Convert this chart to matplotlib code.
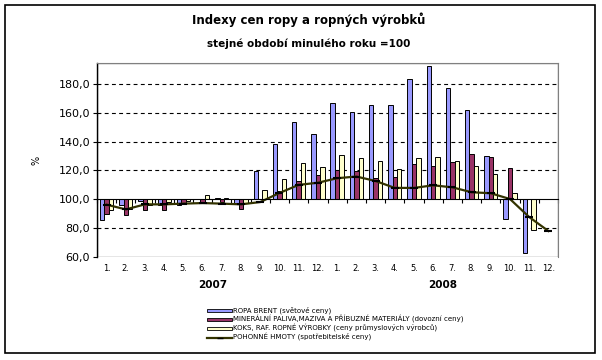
import matplotlib

matplotlib.use("Agg")

import matplotlib.pyplot as plt
import numpy as np
from matplotlib.lines import Line2D
from matplotlib.patches import Patch, Rectangle

# months Jan 2007 .. Dec 2008
months = [f"{m}." for m in range(1, 13)] * 2
years = ["2007", "2008"]

ropa_brent = [85.8, 95.8, 98.6, 96.3, 95.8, 100.5, 101.2, 97.4, 119.3, 138.2, 153.3, 145.0,
              167.1, 160.2, 165.3, 165.3, 183.1, 192.4, 176.9, 161.8, 130.3, 86.6, 63.0, np.nan]
mineralni = [90.0, 88.9, 92.4, 92.4, 96.5, 98.1, 98.1, 93.5, 100.5, 105.6, 113.0, 117.1,
             120.6, 119.9, 115.1, 115.8, 124.8, 123.4, 125.7, 131.7, 129.6, 122.0, np.nan, np.nan]
koks = [92.4, 93.5, 96.3, 98.1, 98.5, 103.3, 101.2, 97.4, 106.7, 114.4, 125.5, 122.7,
        131.0, 128.3, 126.4, 121.3, 128.3, 129.6, 126.4, 123.4, 117.8, 104.6, 79.0, np.nan]
pohonne = [96.3, 93.0, 96.5, 96.5, 97.0, 97.4, 97.0, 96.5, 98.1, 104.4, 110.0, 111.5,
           114.6, 115.8, 112.7, 107.9, 107.9, 109.7, 108.3, 104.9, 104.2, 100.2, 87.7, 78.0]

labels = [
    "ROPA BRENT (světové ceny)",
    "MINERÁLNÍ PALIVA,MAZIVA A PŘÍBUZNÉ MATERIÁLY (dovozní ceny)",
    "KOKS, RAF. ROPNÉ VÝROBKY (ceny průmyslových výrobců)",
    "POHONNÉ HMOTY (spotřebitelské ceny)",
]
colors = ["#9999FF", "#993366", "#FFFFCC"]
line_color = "#333300"
BASE = 100.0

fig = plt.figure(figsize=(6.02, 3.6), dpi=100)
fig.patches.append(Rectangle((5 / 602, 1 - 353 / 360), 590 / 602, 348 / 360,
                             transform=fig.transFigure, fill=False,
                             edgecolor="black", linewidth=1.2))

ax = fig.add_axes([97 / 602, 1 - 257 / 360, 461 / 602, 194 / 360])

x = np.arange(len(months)) + 0.5
width = 0.23
for i, series in enumerate([ropa_brent, mineralni, koks]):
    vals = np.asarray(series, dtype=float)
    ax.bar(x + (i - 1) * width, vals - BASE, width=width, bottom=BASE,
           color=colors[i], edgecolor="black", linewidth=0.7, zorder=3)

ax.plot(x, pohonne, color=line_color, linewidth=1.6, zorder=4,
        marker="_", markersize=6, markeredgecolor="black", markeredgewidth=1.5)

ax.set_xlim(0, len(months))
ax.set_ylim(60, 194.5)
ax.set_yticks(np.arange(60, 181, 20))
ax.set_yticklabels([f"{v:.1f}".replace(".", ",") for v in np.arange(60, 181, 20)],
                   fontsize=8)
for v in [80, 120, 140, 160, 180]:
    ax.axhline(v, color="black", linestyle=(0, (3.5, 3)), linewidth=0.8, zorder=1)

# category axis crosses at 100
ax.spines["bottom"].set_position(("data", BASE))
ax.spines["bottom"].set_zorder(5)
ax.set_xticks(np.arange(0, len(months) + 1))
ax.set_xticklabels([])
ax.tick_params(axis="x", direction="out", length=3, width=0.8)
ax.tick_params(axis="y", direction="out", length=3, width=0.8, pad=2)
for side in ["top", "right"]:
    ax.spines[side].set_color("#808080")
ax.spines["left"].set_linewidth(1.0)
ax.add_patch(Rectangle((0, 0), 1, 1, transform=ax.transAxes, fill=False,
                       edgecolor="#808080", linewidth=1.0, zorder=0))

trans = ax.get_xaxis_transform()
for xi, lab in zip(x, months):
    ax.text(xi, -0.058, lab, transform=trans, ha="center", va="center", fontsize=6)
for k, yr in enumerate(years):
    ax.text(6 + 12 * k, -0.145, yr, transform=trans, ha="center", va="center",
            fontsize=7.5, fontweight="bold")

ax.set_ylabel("%", fontsize=7)
ax.yaxis.set_label_coords(-0.12, 0.5)

fig.text(0.512, 0.944, "Indexy cen ropy a ropných výrobků", ha="center", va="center",
         fontsize=8.5, fontweight="bold")
fig.text(0.512, 0.878, "stejné období minulého roku =100", ha="center", va="center",
         fontsize=7.5, fontweight="bold")

handles = [Patch(facecolor=c, edgecolor="black", linewidth=0.6) for c in colors]
handles.append(Line2D([], [], color=line_color, linewidth=1.6, marker="_",
                      markersize=5, markeredgecolor="black"))
fig.legend(handles, labels, loc="upper left", bbox_to_anchor=(207 / 602, 1 - 307 / 360),
           frameon=False, fontsize=5, handlelength=3.6, handleheight=0.45,
           handletextpad=0.2, labelspacing=0.14, borderaxespad=0, borderpad=0)

fig.savefig("out.png", dpi=100)
plt.close(fig)
